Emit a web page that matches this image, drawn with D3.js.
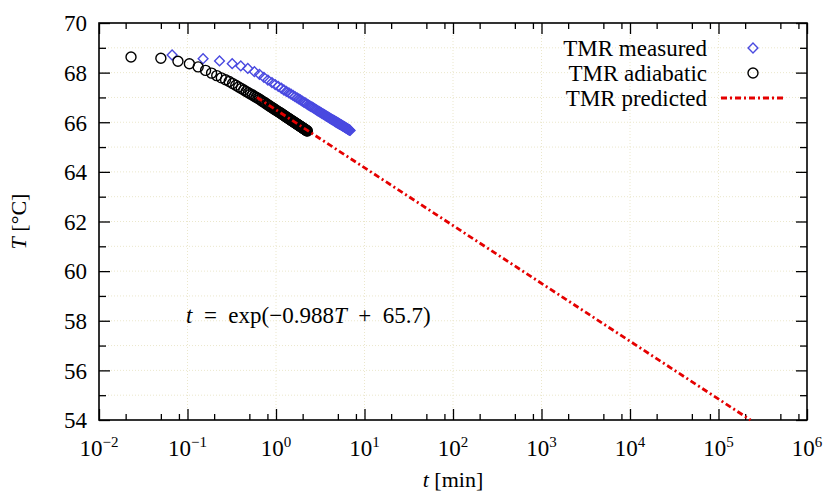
<!DOCTYPE html>
<html>
<head>
<meta charset="utf-8">
<script src="https://cdn.jsdelivr.net/npm/d3@7/dist/d3.min.js"></script>
<style>
  body { margin: 0; background: #fff; }
  svg text { font-family: "Liberation Serif", "DejaVu Serif", serif; fill: #000; }
</style>
</head>
<body>
<div id="chart"></div>
<script>
// TMR measured (blue diamonds): time [min], temperature [°C]
var measuredTime = [0.067, 0.15, 0.23, 0.32, 0.40, 0.48, 0.57, 0.65, 0.73, 0.81,
  0.90, 0.98, 1.06, 1.15, 1.23, 1.31, 1.40, 1.48, 1.56, 1.64,
  1.73, 1.81, 1.89, 1.98, 2.06, 2.14, 2.23, 2.31, 2.39, 2.47,
  2.56, 2.64, 2.72, 2.81, 2.89, 2.97, 3.06, 3.14, 3.22, 3.30,
  3.39, 3.47, 3.55, 3.64, 3.72, 3.80, 3.89, 3.97, 4.05, 4.13,
  4.22, 4.30, 4.38, 4.47, 4.55, 4.63, 4.72, 4.80, 4.88, 4.96,
  5.05, 5.13, 5.21, 5.30, 5.38, 5.46, 5.55, 5.63, 5.71, 5.79,
  5.88, 5.96, 6.04, 6.13, 6.21, 6.29, 6.38, 6.46, 6.54, 6.62,
  6.71, 6.79, 6.87];
var measuredTemp = [68.71, 68.56, 68.47, 68.36, 68.27, 68.17, 68.04, 67.93, 67.81, 67.70,
  67.60, 67.52, 67.45, 67.37, 67.30, 67.24, 67.18, 67.13, 67.08, 67.03,
  66.98, 66.94, 66.90, 66.85, 66.81, 66.78, 66.74, 66.70, 66.67, 66.64,
  66.61, 66.58, 66.55, 66.52, 66.49, 66.46, 66.44, 66.41, 66.39, 66.36,
  66.34, 66.32, 66.30, 66.27, 66.25, 66.23, 66.21, 66.19, 66.17, 66.15,
  66.13, 66.11, 66.10, 66.08, 66.06, 66.04, 66.02, 66.01, 65.99, 65.98,
  65.96, 65.95, 65.93, 65.91, 65.90, 65.89, 65.87, 65.86, 65.84, 65.83,
  65.82, 65.80, 65.79, 65.78, 65.76, 65.75, 65.74, 65.73, 65.71, 65.70,
  65.69, 65.68, 65.67];

// TMR adiabatic (black circles)
var adiabaticTime = [0.023, 0.050, 0.078, 0.105, 0.132, 0.160, 0.187, 0.214, 0.241, 0.269,
  0.296, 0.323, 0.351, 0.378, 0.405, 0.433, 0.460, 0.487, 0.514, 0.542,
  0.569, 0.596, 0.624, 0.651, 0.678, 0.706, 0.733, 0.760, 0.787, 0.815,
  0.842, 0.869, 0.897, 0.924, 0.951, 0.979, 1.006, 1.033, 1.060, 1.088,
  1.115, 1.142, 1.170, 1.197, 1.224, 1.252, 1.279, 1.306, 1.333, 1.361,
  1.388, 1.415, 1.443, 1.470, 1.497, 1.525, 1.552, 1.579, 1.606, 1.634,
  1.661, 1.688, 1.716, 1.743, 1.770, 1.798, 1.825, 1.852, 1.879, 1.907,
  1.934, 1.961, 1.989, 2.016, 2.043, 2.071, 2.098, 2.125, 2.152, 2.180,
  2.207, 2.234, 2.262];
var adiabaticTemp = [68.63, 68.58, 68.46, 68.36, 68.23, 68.09, 67.98, 67.88, 67.79, 67.71,
  67.64, 67.56, 67.49, 67.42, 67.36, 67.30, 67.24, 67.19, 67.14, 67.10,
  67.05, 67.01, 66.97, 66.93, 66.89, 66.84, 66.81, 66.77, 66.73, 66.70,
  66.66, 66.63, 66.60, 66.57, 66.54, 66.51, 66.48, 66.45, 66.43, 66.40,
  66.38, 66.35, 66.33, 66.30, 66.28, 66.26, 66.23, 66.21, 66.19, 66.17,
  66.15, 66.13, 66.11, 66.09, 66.07, 66.05, 66.04, 66.02, 66.00, 65.98,
  65.97, 65.95, 65.93, 65.92, 65.90, 65.89, 65.87, 65.85, 65.84, 65.83,
  65.81, 65.80, 65.78, 65.77, 65.75, 65.74, 65.73, 65.71, 65.70, 65.69,
  65.67, 65.66, 65.65];

// TMR predicted (red dash-dot line), end points
var predictedTime = [0.61, 2.3e5];
var predictedTemp = [67.0, 54];

// ticks
var xMajor = [1e-2, 1e-1, 1e0, 1e1, 1e2, 1e3, 1e4, 1e5, 1e6];
var xMajorExp = ["−2", "−1", "0", "1", "2", "3", "4", "5", "6"];
var xMinorMult = [2, 5, 8];
var yMajor = [54, 56, 58, 60, 62, 64, 66, 68, 70];
var yMinor = [55, 57, 59, 61, 63, 65, 67, 69];

var legendLabels = ["TMR measured", "TMR adiabatic", "TMR predicted"];

var W = 825, H = 494;
var margin = {top: 23, right: 18, bottom: 74, left: 99},
    width = W - margin.left - margin.right,
    height = H - margin.top - margin.bottom;

var x = d3.scaleLog().domain([1e-2, 1e6]).range([0, width]);
var y = d3.scaleLinear().domain([54, 70]).range([height, 0]);

var svg = d3.select("#chart").append("svg")
    .attr("width", W)
    .attr("height", H)
  .append("g")
    .attr("transform", "translate(" + margin.left + "," + margin.top + ")");

var xMinor = [];
xMajor.slice(0, -1).forEach(function(d) {
  xMinorMult.forEach(function(m) { xMinor.push(d * m); });
});

// GRID (faint dotted)
var grid = svg.append("g").attr("class", "grid")
    .attr("stroke", "#ebe7cc")
    .attr("stroke-width", 1)
    .attr("stroke-dasharray", "1,2");

grid.selectAll(".gy")
  .data(yMajor.concat(yMinor).filter(function(d) { return d > 54 && d < 70; }))
  .enter().append("line")
    .attr("x1", 0).attr("x2", width)
    .attr("y1", function(d) { return y(d); })
    .attr("y2", function(d) { return y(d); });

grid.selectAll(".gx")
  .data(xMajor.slice(1, -1))
  .enter().append("line")
    .attr("y1", 0).attr("y2", height)
    .attr("x1", function(d) { return x(d); })
    .attr("x2", function(d) { return x(d); });

// AXES (inward ticks on all four sides)
function styleAxis(g) {
  g.select(".domain").remove();
  g.selectAll("line").attr("stroke", "#000").attr("stroke-width", 1.3);
  g.selectAll("text").remove();
}

svg.append("g").attr("transform", "translate(0," + height + ")")
  .call(d3.axisBottom(x).tickValues(xMajor).tickSize(-11)).call(styleAxis);
svg.append("g").attr("transform", "translate(0," + height + ")")
  .call(d3.axisBottom(x).tickValues(xMinor).tickSize(-6)).call(styleAxis);
svg.append("g")
  .call(d3.axisTop(x).tickValues(xMajor).tickSize(-11)).call(styleAxis);
svg.append("g")
  .call(d3.axisTop(x).tickValues(xMinor).tickSize(-6)).call(styleAxis);

svg.append("g")
  .call(d3.axisLeft(y).tickValues(yMajor).tickSize(-11)).call(styleAxis);
svg.append("g")
  .call(d3.axisLeft(y).tickValues(yMinor).tickSize(-7)).call(styleAxis);
svg.append("g").attr("transform", "translate(" + width + ",0)")
  .call(d3.axisRight(y).tickValues(yMajor).tickSize(-11)).call(styleAxis);
svg.append("g").attr("transform", "translate(" + width + ",0)")
  .call(d3.axisRight(y).tickValues(yMinor).tickSize(-7)).call(styleAxis);

// frame
svg.append("rect")
    .attr("width", width)
    .attr("height", height)
    .attr("fill", "none")
    .attr("stroke", "#000")
    .attr("stroke-width", 1.6);

// TICK LABELS
svg.selectAll(".ylab")
  .data(yMajor)
  .enter().append("text")
    .attr("x", -12)
    .attr("y", function(d) { return y(d); })
    .attr("dy", "0.36em")
    .attr("text-anchor", "end")
    .style("font-size", "23px")
    .text(function(d) { return d; });

var xl = svg.selectAll(".xlab")
  .data(xMajor)
  .enter().append("text")
    .attr("x", function(d) { return x(d); })
    .attr("y", height + 36)
    .attr("text-anchor", "middle")
    .style("font-size", "23px");
xl.append("tspan").text("10");
xl.append("tspan")
    .attr("dy", -9)
    .style("font-size", "15px")
    .text(function(d, i) { return xMajorExp[i]; });

// AXIS TITLES
var xt = svg.append("text")
    .attr("x", width / 2)
    .attr("y", height + 67)
    .attr("text-anchor", "middle")
    .style("font-size", "22px");
xt.append("tspan").style("font-style", "italic").text("t");
xt.append("tspan").text(" [min]");

var yt = svg.append("text")
    .attr("transform", "translate(" + (-73) + "," + (height / 2) + ") rotate(-90)")
    .attr("text-anchor", "middle")
    .style("font-size", "22px");
yt.append("tspan").style("font-style", "italic").text("T");
yt.append("tspan").text(" [°C]");

// ANNOTATION
var eq = svg.append("text")
    .attr("x", 87)
    .attr("y", 300)
    .style("font-size", "23px");
eq.append("tspan").style("font-style", "italic").text("t");
eq.append("tspan").text("\u00a0\u00a0=\u00a0\u00a0exp(−0.988");
eq.append("tspan").style("font-style", "italic").text("T");
eq.append("tspan").text("\u00a0\u00a0+\u00a0\u00a065.7)");

// DATA
var measured = measuredTime.map(function(t, i) { return {t: t, T: measuredTemp[i]}; });
var adiabatic = adiabaticTime.map(function(t, i) { return {t: t, T: adiabaticTemp[i]}; });
var predicted = predictedTime.map(function(t, i) { return {t: t, T: predictedTemp[i]}; });

var diamond = d3.symbol().type(d3.symbolSquare).size(48);

svg.append("g").selectAll("path")
  .data(measured)
  .enter().append("path")
    .attr("d", diamond)
    .attr("transform", function(d) { return "translate(" + x(d.t) + "," + y(d.T) + ") rotate(45)"; })
    .attr("fill", "none")
    .attr("stroke", "#4a4ae0")
    .attr("stroke-width", 1.4);

svg.append("g").selectAll("circle")
  .data(adiabatic)
  .enter().append("circle")
    .attr("cx", function(d) { return x(d.t); })
    .attr("cy", function(d) { return y(d.T); })
    .attr("r", 5)
    .attr("fill", "none")
    .attr("stroke", "#000")
    .attr("stroke-width", 1.4);

var line = d3.line()
    .x(function(d) { return x(d.t); })
    .y(function(d) { return y(d.T); });

svg.append("path")
    .datum(predicted)
    .attr("d", line)
    .attr("fill", "none")
    .attr("stroke", "#e50000")
    .attr("stroke-width", 2.8)
    .attr("stroke-dasharray", "6,3,2,3");

// LEGEND
var legend = svg.append("g");
var rowY = [25, 50, 75];
legend.selectAll("text")
  .data(legendLabels)
  .enter().append("text")
    .attr("x", 608)
    .attr("y", function(d, i) { return rowY[i]; })
    .attr("dy", "0.33em")
    .attr("text-anchor", "end")
    .style("font-size", "23px")
    .text(function(d) { return d; });

legend.append("path")
    .attr("d", diamond)
    .attr("transform", "translate(654," + rowY[0] + ") rotate(45)")
    .attr("fill", "none")
    .attr("stroke", "#4a4ae0")
    .attr("stroke-width", 1.4);
legend.append("circle")
    .attr("cx", 654).attr("cy", rowY[1]).attr("r", 5)
    .attr("fill", "none").attr("stroke", "#000").attr("stroke-width", 1.4);
legend.append("line")
    .attr("x1", 622).attr("x2", 684)
    .attr("y1", rowY[2]).attr("y2", rowY[2])
    .attr("stroke", "#e50000")
    .attr("stroke-width", 2.8)
    .attr("stroke-dasharray", "6,3,2,3");
</script>
</body>
</html>
